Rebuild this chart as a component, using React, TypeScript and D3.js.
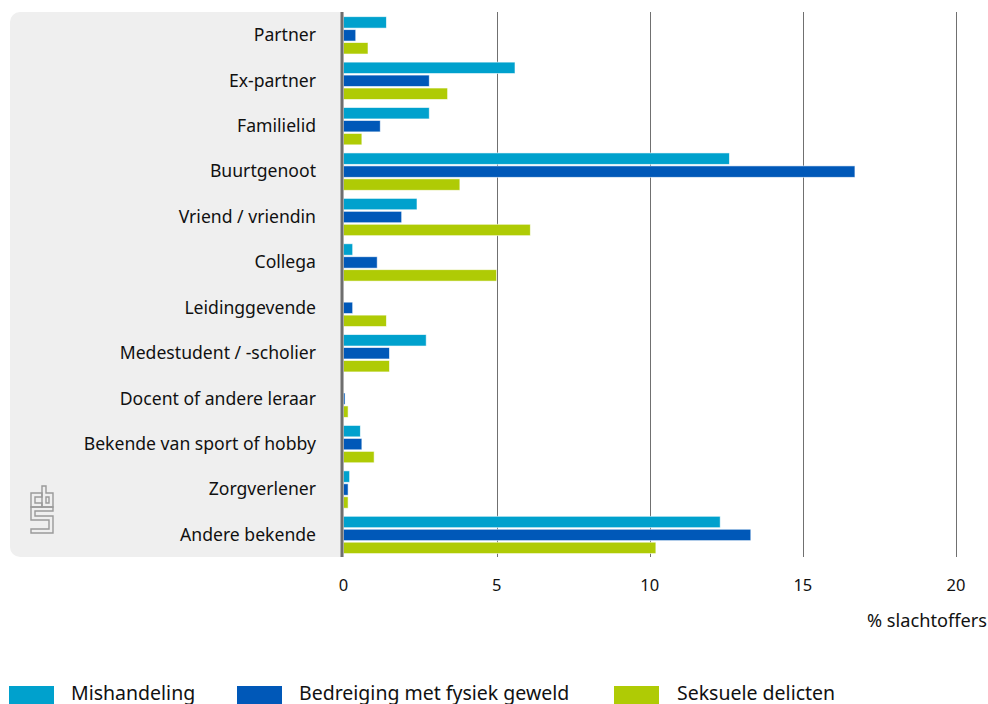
import React from "react";
import * as d3 from "d3";

const categories = [
  "Partner",
  "Ex-partner",
  "Familielid",
  "Buurtgenoot",
  "Vriend / vriendin",
  "Collega",
  "Leidinggevende",
  "Medestudent / -scholier",
  "Docent of andere leraar",
  "Bekende van sport of hobby",
  "Zorgverlener",
  "Andere bekende",
];

const seriesNames = ["Mishandeling", "Bedreiging met fysiek geweld", "Seksuele delicten"];
const seriesColors = ["#00a1cd", "#0058b8", "#afcb05"];

const mishandeling = [1.4, 5.6, 2.8, 12.6, 2.4, 0.3, 0, 2.7, 0, 0.55, 0.2, 12.3];
const bedreiging = [0.4, 2.8, 1.2, 16.7, 1.9, 1.1, 0.3, 1.5, 0.05, 0.6, 0.15, 13.3];
const seksueel = [0.8, 3.4, 0.6, 3.8, 6.1, 5.0, 1.4, 1.5, 0.15, 1.0, 0.15, 10.2];

const xTicks = [0, 5, 10, 15, 20];
const axisTitle = "% slachtoffers";

const FONT = "'Noto Sans', sans-serif";

export default function App() {
  const W = 988;
  const H = 704;
  const top = 12;
  const bottom = 557;
  const panelLeft = 10;

  const x = d3.scaleLinear().domain([0, 20]).range([343.5, 956]);
  const y = d3.scaleBand<string>().domain(categories).range([top, bottom]).paddingInner(0).paddingOuter(0);
  const inner = d3
    .scaleBand<number>()
    .domain([0, 1, 2])
    .range([4.7, y.bandwidth() - 3.4])
    .paddingInner(0.12)
    .paddingOuter(0);

  const series = [mishandeling, bedreiging, seksueel];
  const x0 = x(0);
  const r = 10;
  const panelPath = `M${x0},${top} H${panelLeft + r} A${r},${r} 0 0 0 ${panelLeft},${top + r} V${bottom - r} A${r},${r} 0 0 0 ${panelLeft + r},${bottom} H${x0} Z`;

  const legendItems = [
    { sx: 9, tx: 71 },
    { sx: 237, tx: 299 },
    { sx: 614, tx: 677 },
  ];

  return (
    <svg
      width={W}
      height={H}
      style={{ position: "absolute", left: 0, top: 0, background: "#fff" }}
      fontFamily={FONT}
    >
      <path d={panelPath} fill="#efefef" />

      {xTicks
        .filter((t) => t > 0)
        .map((t) => (
          <line key={t} x1={Math.round(x(t)) + 0.5} x2={Math.round(x(t)) + 0.5} y1={top} y2={bottom} stroke="#707070" strokeWidth={1} />
        ))}

      {categories.map((c, i) => (
        <g key={c} transform={`translate(0,${y(c)})`}>
          {series.map((s, j) =>
            s[i] > 0 ? (
              <rect
                key={j}
                x={x0}
                y={inner(j)}
                width={x(s[i]) - x0}
                height={inner.bandwidth()}
                fill={seriesColors[j]}
                stroke="rgba(255,255,255,0.7)"
                strokeWidth={0.8}
              />
            ) : null
          )}
        </g>
      ))}

      <line x1={342} x2={342} y1={top} y2={bottom} stroke="#6e6e6e" strokeWidth={3} />

      {categories.map((c) => (
        <text
          key={c}
          x={316}
          y={(y(c) as number) + y.bandwidth() / 2 - 0.5}
          textAnchor="end"
          dominantBaseline="central"
          fontSize={17.6}
          fill="#111"
        >
          {c}
        </text>
      ))}

      {xTicks.map((t) => (
        <text key={t} x={x(t)} y={584} textAnchor="middle" dominantBaseline="central" fontSize={16.5} fill="#111">
          {t}
        </text>
      ))}
      <text x={987} y={620} textAnchor="end" dominantBaseline="central" fontSize={18.2} fill="#111">
        {axisTitle}
      </text>

      <g fill="none" stroke="#9a9a9a" strokeWidth={1.4}>
        <path d="M42,493 H31 V507 H42 V503 H35 V497 H42 Z" />
        <path d="M42,486 H46 V493 H53 V507 H42 Z" />
        <path d="M46,497 H49 V503 H46 Z" />
        <path d="M31,507 H53 V511 H35 V516 H53 V533 H31 V529 H49 V520 H31 Z" />
      </g>

      {seriesNames.map((n, i) => (
        <g key={n}>
          <rect x={legendItems[i].sx} y={686} width={45} height={20} fill={seriesColors[i]} />
          <text x={legendItems[i].tx} y={692} dominantBaseline="central" fontSize={19.5} fill="#111">
            {n}
          </text>
        </g>
      ))}
    </svg>
  );
}
